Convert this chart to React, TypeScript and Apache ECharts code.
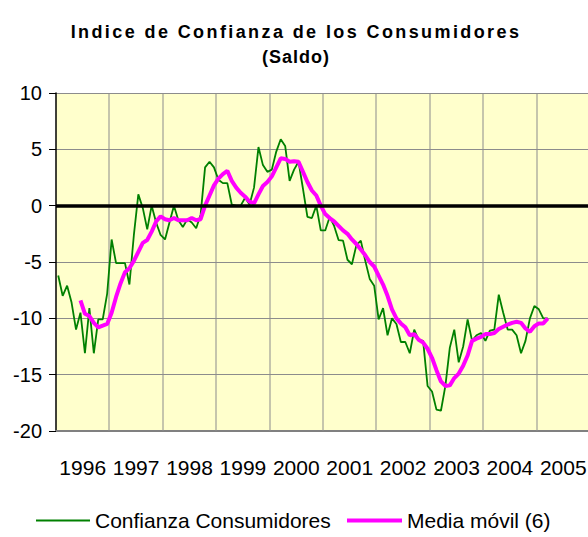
import React, { useEffect, useRef } from "react";
import * as echarts from "echarts";

const TITLE_1 = "Indice de Confianza de los Consumidores";
const TITLE_2 = "(Saldo)";
const SERIES_1 = "Confianza Consumidores";
const SERIES_2 = "Media móvil (6)";

const years = ["1996", "1997", "1998", "1999", "2000", "2001", "2002", "2003", "2004", "2005"];

// monthly values from Jan 1996
const confianza = [
  -6.2, -8.0, -7.1, -8.6, -11.0, -9.5, -13.1, -9.1, -13.1, -10.1, -10.1, -7.8,
  -3.0, -5.1, -5.1, -5.1, -7.0, -2.6, 1.0, -0.2, -2.1, 0.0, -1.5, -2.6,
  -3.0, -1.5, 0.0, -1.3, -1.9, -1.2, -1.5, -2.0, -0.8, 3.4, 3.9, 3.4,
  2.3, 2.0, 2.0, 0.1, 0.0, 0.0, 0.7, 0.1, 1.6, 5.2, 3.6, 3.0,
  3.2, 4.8, 5.9, 5.3, 2.2, 3.2, 3.9, 1.5, -1.0, -1.1, 0.0, -2.2,
  -2.2, -1.0, -1.8, -3.05, -3.1, -4.8, -5.2, -3.5, -3.1, -4.9, -6.5, -7.1,
  -10.1, -9.1, -11.5, -10.0, -10.5, -12.1, -12.1, -13.1, -11.0, -11.9, -12.0, -16.0,
  -16.5, -18.1, -18.2, -16.0, -12.6, -11.0, -13.9, -12.5, -10.1, -12.0, -11.5, -11.3,
  -12.0, -11.1, -11.0, -7.9, -9.5, -11.0, -11.0, -11.5, -13.1, -12.0, -10.0, -8.9,
  -9.2, -10.0, -10.0,
];

// six-month moving average, starting at the 6th month (Jun 1996)
const MA_START = 5;
const mediaMovil = [
  -8.4, -9.6, -9.8, -10.4, -10.8, -10.65, -10.5,
  -9.5, -8.1, -6.9, -5.9, -5.55, -4.9, -4.1, -3.3, -3.05, -2.3, -1.4, -0.95,
  -1.2, -1.3, -1.1, -1.3, -1.3, -1.3, -1.1, -1.3, -1.2, 0.0, 0.9, 1.8,
  2.4, 2.8, 3.1, 2.2, 1.6, 1.15, 0.8, 0.35, 0.2, 1.0, 1.75, 2.1,
  2.6, 3.4, 4.2, 4.15, 3.9, 3.95, 3.9, 3.0, 2.1, 1.35, 0.9, 0.0,
  -0.75, -1.1, -1.4, -1.8, -2.2, -2.5, -3.0, -3.4, -3.9, -4.4, -5.0, -5.4,
  -6.2, -7.0, -8.0, -9.2, -10.0, -10.45, -10.8, -11.5, -11.4, -11.9, -12.15, -12.7,
  -13.5, -14.6, -15.6, -16.0, -15.95, -15.3, -14.9, -14.2, -13.3, -12.0, -11.8, -11.65,
  -11.4, -11.4, -11.3, -10.95, -10.75, -10.55, -10.4, -10.3, -10.4, -10.9, -11.2, -10.7,
  -10.45, -10.45, -10.0,
];

const Y_MIN = -20;
const Y_MAX = 10;
const Y_STEP = 5;
const MONTHS_PER_YEAR = 12;
const MONTHS = years.length * MONTHS_PER_YEAR;

const FONT = "'Liberation Sans', Arial, Helvetica, sans-serif";
const GRID_GRAY = "#8c8c8c";

export default function App() {
  const ref = useRef<HTMLDivElement>(null);

  useEffect(() => {
    const el = ref.current!;
    const chart = echarts.init(el, undefined, { renderer: "svg" });
    const titleText = (id: string, text: string, y: number) => ({
      id,
      type: "text",
      x: 296,
      y,
      style: {
        text,
        fontFamily: FONT,
        fontSize: 18,
        fontWeight: "bold",
        fill: "#000",
        textAlign: "center",
        textVerticalAlign: "middle",
      },
    });
    chart.setOption({
      animation: false,
      backgroundColor: "#ffffff",
      textStyle: { fontFamily: FONT },
      graphic: [titleText("t1", TITLE_1, 32), titleText("t2", TITLE_2, 57)],
      grid: {
        left: 56,
        right: 10,
        top: 93,
        bottom: 106,
        show: true,
        backgroundColor: "#FFFFCC",
        borderWidth: 0,
      },
      legend: [
        {
          data: [SERIES_1],
          left: 36,
          top: 510,
          padding: 0,
          icon: "rect",
          itemWidth: 54,
          itemHeight: 2,
          textStyle: { fontSize: 21, color: "#000", fontFamily: FONT },
        },
        {
          data: [SERIES_2],
          left: 347,
          top: 510,
          padding: 0,
          icon: "rect",
          itemWidth: 55,
          itemHeight: 4,
          textStyle: { fontSize: 21, color: "#000", fontFamily: FONT },
        },
      ],
      xAxis: [
        {
          type: "value",
          min: 0,
          max: MONTHS,
          interval: MONTHS_PER_YEAR,
          axisLine: { show: false },
          axisTick: { show: false },
          axisLabel: { show: false },
          splitLine: { show: false },
        },
        {
          type: "category",
          data: years,
          boundaryGap: true,
          position: "bottom",
          axisLine: { show: true, lineStyle: { color: "#808080", width: 2 } },
          axisTick: { show: false },
          axisLabel: { interval: 0, fontSize: 21, color: "#000", margin: 26, fontFamily: FONT },
          splitLine: { show: false },
        },
      ],
      yAxis: {
        type: "value",
        min: Y_MIN,
        max: Y_MAX,
        interval: Y_STEP,
        axisLine: { show: true, lineStyle: { color: "#000", width: 1.5 } },
        axisTick: { show: true, length: 7, lineStyle: { color: "#000", width: 1 } },
        axisLabel: { fontSize: 20, color: "#000", margin: 14, fontFamily: FONT },
        splitLine: { show: true, lineStyle: { color: GRID_GRAY, width: 1 } },
      },
      series: [
        {
          name: "zero",
          type: "line",
          xAxisIndex: 0,
          data: [],
          z: 2,
          silent: true,
          markLine: {
            silent: true,
            symbol: "none",
            label: { show: false },
            lineStyle: { color: "#000", width: 3.5, type: "solid" },
            data: [{ yAxis: 0 }],
          },
        },
        {
          name: SERIES_1,
          type: "line",
          xAxisIndex: 0,
          data: confianza.map((v, i) => [i + 0.5, v]),
          showSymbol: false,
          symbol: "none",
          lineStyle: { color: "#008000", width: 1.8 },
          itemStyle: { color: "#008000" },
          z: 3,
        },
        {
          name: SERIES_2,
          type: "line",
          xAxisIndex: 0,
          data: mediaMovil.map((v, i) => [i + MA_START + 0.5, v]),
          showSymbol: false,
          symbol: "none",
          lineStyle: { color: "#FF00FF", width: 4 },
          itemStyle: { color: "#FF00FF" },
          z: 4,
        },
      ],
    });

    // vertical year gridlines, placed through the x axis scale
    const yTop = chart.convertToPixel({ yAxisIndex: 0 }, Y_MAX) as number;
    const yBottom = chart.convertToPixel({ yAxisIndex: 0 }, Y_MIN) as number;
    const vLines = years.map((_, k) => {
      const px = chart.convertToPixel({ xAxisIndex: 0 }, (k + 1) * MONTHS_PER_YEAR) as number;
      return {
        id: "v" + k,
        type: "rect",
        z: 1,
        silent: true,
        shape: { x: Math.round(px) - 0.5, y: yTop, width: 1, height: yBottom - yTop },
        style: { fill: GRID_GRAY },
      };
    });
    chart.setOption({
      graphic: [titleText("t1", TITLE_1, 32), titleText("t2", TITLE_2, 57), ...vLines],
    });

    const spacing = () => {
      el.querySelectorAll("text").forEach((t) => {
        const s = t.textContent;
        if (s === TITLE_1) t.setAttribute("letter-spacing", "2.4");
        else if (s === TITLE_2) t.setAttribute("letter-spacing", "1");
      });
    };
    spacing();
    chart.on("finished", spacing);

    return () => chart.dispose();
  }, []);

  return (
    <div
      ref={ref}
      style={{ position: "fixed", left: 0, top: 0, width: 600, height: 537 }}
    />
  );
}
